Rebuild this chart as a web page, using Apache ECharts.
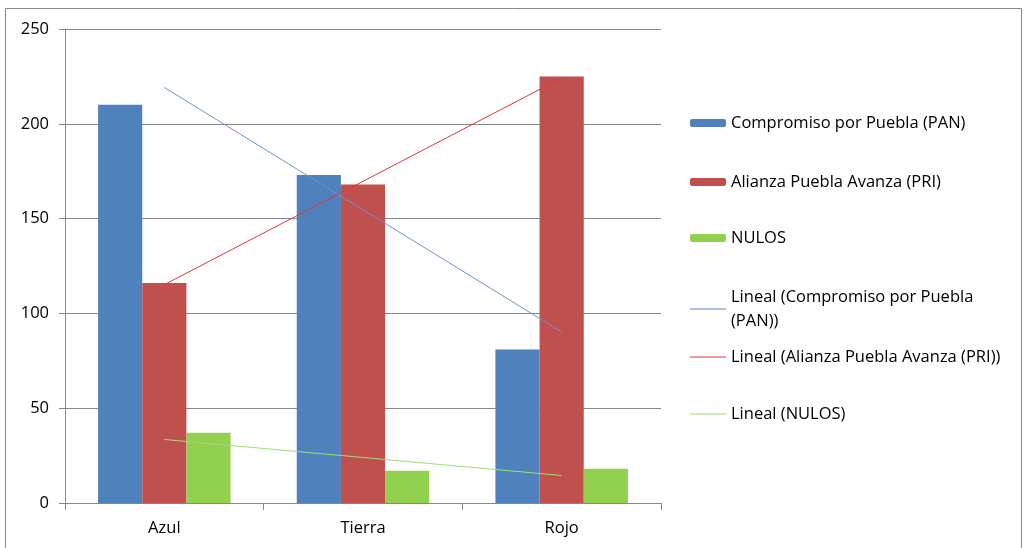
<!DOCTYPE html>
<html>
<head>
<meta charset="utf-8">
<script src="https://cdn.jsdelivr.net/npm/echarts@6/dist/echarts.min.js"></script>
<style>
html,body{margin:0;padding:0;background:#fff;}
#chart{width:1028px;height:548px;}
</style>
</head>
<body>
<div id="chart"></div>
<script>
const categories = ['Azul', 'Tierra', 'Rojo'];
const seriesNames = ['Compromiso por Puebla (PAN)', 'Alianza Puebla Avanza (PRI)', 'NULOS'];
const panValues = [210, 173, 81];
const priValues = [116, 168, 225];
const nulosValues = [37, 17, 18];
const trendNames = ['Lineal (Compromiso por Puebla (PAN))', 'Lineal (Alianza Puebla Avanza (PRI))', 'Lineal (NULOS)'];
const yTicks = [0, 50, 100, 150, 200, 250];

// Linear (least squares) trendline evaluated at each category position, as Excel does
function linearTrend(values) {
  const n = values.length;
  const xs = values.map((_, i) => i + 1);
  const mx = xs.reduce((a, b) => a + b, 0) / n;
  const my = values.reduce((a, b) => a + b, 0) / n;
  let num = 0, den = 0;
  for (let i = 0; i < n; i++) { num += (xs[i] - mx) * (values[i] - my); den += (xs[i] - mx) ** 2; }
  const slope = num / den;
  return xs.map(x => my + slope * (x - mx));
}

const FONT = 'Open Sans';
const FS = 16.5;
const TXT = '#000';
const barColors = ['#4F81BD', '#C0504D', '#92D050'];
const trendColors = ['#6E95CC', '#E23636', '#A6DA7A'];
const trendLegendColors = ['#4F81BD', '#E23636', '#9ED46E'];

const chart = echarts.init(document.getElementById('chart'), null, {renderer: 'canvas'});

function legendFor(name, top, extra) {
  return Object.assign({
    data: [name],
    left: 690, top: top, orient: 'vertical', padding: 0,
    itemWidth: 36, itemHeight: 8, itemGap: 0,
    selectedMode: false,
    textStyle: {fontFamily: FONT, fontSize: FS, color: TXT, lineHeight: 20, padding: [0,0,0,0]}
  }, extra || {});
}

const option = {
  animation: false,
  backgroundColor: '#fff',
  grid: {left: 65, right: 367, top: 29, bottom: 45, containLabel: false},
  legend: [
    legendFor(seriesNames[0], 113),
    legendFor(seriesNames[1], 172),
    legendFor(seriesNames[2], 228),
    legendFor(trendNames[0], 273, {
      data: [{name: trendNames[0], icon: 'rect'}],
      itemHeight: 1,
      formatter: () => 'Lineal (Compromiso por Puebla\n(PAN))',
      textStyle: {fontFamily: FONT, fontSize: FS, color: TXT, lineHeight: 24, padding: [24, 0, 0, 0]}
    }),
    legendFor(trendNames[1], 347, {data: [{name: trendNames[1], icon: 'rect'}], itemHeight: 1}),
    legendFor(trendNames[2], 404, {data: [{name: trendNames[2], icon: 'rect'}], itemHeight: 1})
  ],
  xAxis: {
    type: 'category',
    data: categories,
    axisLine: {lineStyle: {color: '#868686', width: 1}},
    axisTick: {show: true, length: 7, lineStyle: {color: '#868686'}, alignWithLabel: false},
    axisLabel: {fontFamily: FONT, fontSize: FS, color: TXT, margin: 17}
  },
  yAxis: {
    type: 'value',
    min: yTicks[0], max: yTicks[yTicks.length - 1], interval: yTicks[1] - yTicks[0],
    axisLine: {show: true, lineStyle: {color: '#868686', width: 1}},
    axisTick: {show: true, length: 6, lineStyle: {color: '#868686'}},
    axisLabel: {fontFamily: FONT, fontSize: FS, color: TXT, margin: 16},
    splitLine: {lineStyle: {color: '#868686', width: 1}}
  },
  series: [
    {name: seriesNames[0], type: 'bar', data: panValues, itemStyle: {color: barColors[0]}, barGap: '0%', barCategoryGap: '33.3%', z: 2},
    {name: seriesNames[1], type: 'bar', data: priValues, itemStyle: {color: barColors[1]}, barGap: '0%', barCategoryGap: '33.3%', z: 2},
    {name: seriesNames[2], type: 'bar', data: nulosValues, itemStyle: {color: barColors[2]}, barGap: '0%', barCategoryGap: '33.3%', z: 2},
    {name: trendNames[0], type: 'line', data: linearTrend(panValues), symbol: 'none', lineStyle: {color: trendColors[0], width: 1}, itemStyle: {color: trendLegendColors[0]}, z: 5},
    {name: trendNames[1], type: 'line', data: linearTrend(priValues), symbol: 'none', lineStyle: {color: trendColors[1], width: 1}, itemStyle: {color: trendLegendColors[1]}, z: 5},
    {name: trendNames[2], type: 'line', data: linearTrend(nulosValues), symbol: 'none', lineStyle: {color: trendColors[2], width: 1}, itemStyle: {color: trendLegendColors[2]}, z: 5}
  ],
  graphic: [
    {type: 'rect', shape: {x: 5.5, y: 8.5, width: 1016, height: 600}, style: {fill: null, stroke: '#888', lineWidth: 1}, silent: true}
  ]
};
chart.setOption(option);
</script>
</body>
</html>
